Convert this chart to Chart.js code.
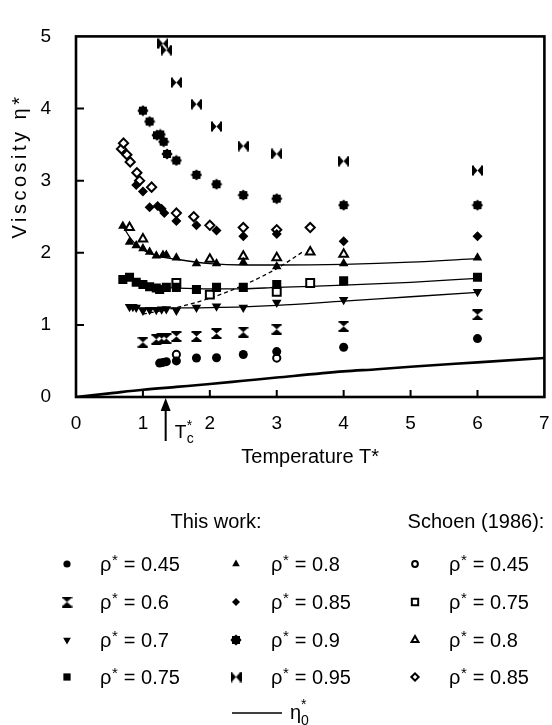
<!DOCTYPE html>
<html lang="en">
<head>
<meta charset="UTF-8">
<title>Viscosity vs Temperature</title>
<script src="https://cdnjs.cloudflare.com/ajax/libs/Chart.js/4.4.1/chart.umd.min.js"></script>
<style>
    html, body { margin: 0; padding: 0; background: #fff; }
    #wrap { width: 552px; height: 725px; }
</style>
</head>
<body>
<div id="wrap"><canvas id="viscChart" width="552" height="725"></canvas></div>
<script>
    // critical temperature marker
    const TC = 1.34;

    // This work: reduced temperature T* and viscosity eta*
    const t45 = [1.25, 1.3, 1.35, 1.5, 1.8, 2.1, 2.5, 3.0, 4.0, 6.0];
    const v45 = [0.47, 0.48, 0.49, 0.50, 0.54, 0.545, 0.59, 0.63, 0.69, 0.81];
    const t60 = [1.0, 1.2, 1.28, 1.35, 1.5, 1.8, 2.1, 2.5, 3.0, 4.0, 6.0];
    const v60 = [0.76, 0.80, 0.81, 0.81, 0.84, 0.84, 0.88, 0.90, 0.94, 0.98, 1.14];
    const t70 = [0.8, 0.85, 0.9, 1.0, 1.1, 1.2, 1.28, 1.35, 1.5, 1.8, 2.1, 2.5, 3.0, 4.0, 6.0];
    const v70 = [1.25, 1.25, 1.24, 1.20, 1.21, 1.21, 1.215, 1.22, 1.20, 1.24, 1.26, 1.24, 1.31, 1.35, 1.46];
    const t75 = [0.7, 0.8, 0.9, 1.0, 1.1, 1.2, 1.25, 1.35, 1.5, 1.8, 2.1, 2.5, 3.0, 4.0, 6.0];
    const v75 = [1.63, 1.66, 1.59, 1.56, 1.53, 1.51, 1.49, 1.52, 1.52, 1.49, 1.52, 1.52, 1.56, 1.61, 1.66];
    const t80 = [0.7, 0.8, 0.9, 1.0, 1.1, 1.2, 1.3, 1.35, 1.5, 1.8, 2.1, 2.5, 3.0, 4.0, 6.0];
    const v80 = [2.37, 2.15, 2.10, 2.06, 2.01, 1.96, 1.97, 1.97, 1.93, 1.85, 1.85, 1.87, 1.81, 1.85, 1.93];
    const t85 = [0.9, 1.0, 1.1, 1.22, 1.28, 1.32, 1.5, 1.8, 2.1, 2.5, 3.0, 4.0, 6.0];
    const v85 = [2.94, 2.85, 2.63, 2.65, 2.61, 2.55, 2.44, 2.38, 2.31, 2.23, 2.26, 2.16, 2.23];
    const t90 = [1.0, 1.1, 1.21, 1.26, 1.31, 1.36, 1.5, 1.8, 2.1, 2.5, 3.0, 4.0, 6.0];
    const v90 = [3.97, 3.82, 3.63, 3.64, 3.54, 3.37, 3.28, 3.08, 2.95, 2.80, 2.75, 2.66, 2.66];
    const t95 = [1.3, 1.35, 1.5, 1.8, 2.1, 2.5, 3.0, 4.0, 6.0];
    const v95 = [4.90, 4.81, 4.36, 4.06, 3.75, 3.48, 3.37, 3.27, 3.14];

    // Schoen (1986)
    const s45t = [1.5, 3.0];
    const s45v = [0.59, 0.54];
    const s75t = [1.5, 2.0, 3.0, 3.5];
    const s75v = [1.58, 1.42, 1.46, 1.58];
    const s80t = [0.8, 1.0, 2.0, 2.5, 3.0, 3.5, 4.0];
    const s80v = [2.35, 2.19, 1.91, 1.95, 1.93, 2.01, 1.98];
    const s85t = [0.68, 0.71, 0.76, 0.81, 0.91, 0.95, 1.13, 1.5, 1.76, 2.0, 2.5, 3.0, 3.5];
    const s85v = [3.44, 3.52, 3.36, 3.26, 3.11, 3.00, 2.91, 2.55, 2.50, 2.38, 2.35, 2.32, 2.35];

    // fitted curves
    const f80t = [0.7, 0.8, 0.9, 1.0, 1.2, 1.5, 2.0, 2.5, 3.0, 4.0, 5.0, 6.0];
    const f80v = [2.37, 2.22, 2.11, 2.04, 1.96, 1.91, 1.85, 1.83, 1.83, 1.84, 1.87, 1.92];
    const f75t = [1.0, 1.5, 2.0, 2.5, 3.0, 4.0, 5.0, 6.0];
    const f75v = [1.53, 1.51, 1.50, 1.50, 1.52, 1.55, 1.59, 1.645];
    const f70t = [0.8, 1.0, 1.5, 2.0, 2.5, 3.0, 4.0, 5.0, 6.0];
    const f70v = [1.24, 1.235, 1.235, 1.24, 1.25, 1.27, 1.33, 1.39, 1.45];
    const dashT = [1.0, 1.5, 2.0, 2.5, 3.0, 3.4];
    const dashV = [1.15, 1.24, 1.37, 1.55, 1.78, 2.02];
    // dilute gas viscosity eta0*
    const e0t = [0, 0.5, 1, 1.5, 2, 2.5, 3, 4, 4.5, 5, 6, 7];
    const e0v = [0, 0.05, 0.10, 0.14, 0.18, 0.225, 0.27, 0.355, 0.385, 0.42, 0.48, 0.54];

    const FONT = 'Liberation Sans, Arial, Helvetica, sans-serif';
    const F = (s) => s + 'px ' + FONT;

    function pts(xs, ys) {
        return xs.map((x, i) => ({ x: x, y: ys[i] }));
    }

    // custom marker images
    function hourglass() {
        const c = document.createElement('canvas');
        c.width = 11; c.height = 11;
        const g = c.getContext('2d');
        g.fillStyle = '#000';
        g.beginPath(); g.moveTo(1, 1.5); g.lineTo(10, 1.5); g.lineTo(5.5, 5.5); g.closePath(); g.fill();
        g.beginPath(); g.moveTo(1, 9.5); g.lineTo(10, 9.5); g.lineTo(5.5, 5.5); g.closePath(); g.fill();
        g.fillRect(0.5, 0, 10, 2);
        g.fillRect(0.5, 9, 10, 2);
        return c;
    }

    function blob() {
        const c = document.createElement('canvas');
        c.width = 12; c.height = 12;
        const g = c.getContext('2d');
        g.fillStyle = '#000';
        g.beginPath();
        for (let i = 0; i < 16; i++) {
            const r = i % 2 === 0 ? 5.6 : 4.4;
            const a = i * Math.PI / 8;
            const px = 6 + r * Math.cos(a), py = 6 + r * Math.sin(a);
            if (i === 0) g.moveTo(px, py); else g.lineTo(px, py);
        }
        g.closePath();
        g.fill();
        return c;
    }

    const HG = hourglass();
    const BLOB = blob();

    function marker(label, xs, ys, style, opts) {
        return Object.assign({
            label: label,
            data: pts(xs, ys),
            pointStyle: style,
            pointRadius: 4.5,
            pointBackgroundColor: '#000',
            pointBorderColor: '#000',
            pointBorderWidth: 0,
            pointRotation: 0,
            showLine: false
        }, opts || {});
    }

    function curve(xs, ys, width, dash) {
        return {
            label: '',
            data: pts(xs, ys),
            showLine: true,
            borderColor: '#000',
            borderWidth: width,
            borderDash: dash || [],
            pointRadius: 0,
            cubicInterpolationMode: 'monotone',
            fill: false
        };
    }

    const openOpts = { pointBackgroundColor: '#fff', pointBorderWidth: 2 };

    const datasets = [
        marker('0.45', t45, v45, 'circle', { pointRadius: 4.5 }),
        marker('0.6', t60, v60, HG),
        marker('0.7', t70, v70, 'triangle', { pointRadius: 5.5, pointRotation: 180 }),
        marker('0.75', t75, v75, 'rect', { pointRadius: 6.4 }),
        marker('0.8', t80, v80, 'triangle', { pointRadius: 5.5 }),
        marker('0.85', t85, v85, 'rectRot', { pointRadius: 5 }),
        marker('0.9', t90, v90, BLOB),
        marker('0.95', t95, v95, HG, { pointRotation: 90 }),
        marker('0.45', s45t, s45v, 'circle', Object.assign({ pointRadius: 3.6 }, openOpts)),
        marker('0.75', s75t, s75v, 'rect', Object.assign({ pointRadius: 5.6 }, openOpts)),
        marker('0.8', s80t, s80v, 'triangle', Object.assign({ pointRadius: 5 }, openOpts)),
        marker('0.85', s85t, s85v, 'rectRot', Object.assign({ pointRadius: 4.6 }, openOpts)),
        curve(f80t, f80v, 1.3),
        curve(f75t, f75v, 1.3),
        curve(f70t, f70v, 1.3),
        curve(dashT, dashV, 1.3, [4, 3]),
        curve(e0t, e0v, 2.6)
    ];

    // legend columns: dataset indexes
    const legendCols = [[0, 1, 2, 3], [4, 5, 6, 7], [8, 9, 10, 11]];

    function drawRho(ctx, x, y, val) {
        ctx.font = F(20);
        ctx.textAlign = 'left';
        ctx.fillText('ρ', x, y);
        const w = ctx.measureText('ρ').width;
        ctx.font = F(15);
        ctx.fillText('*', x + w + 0.5, y - 6);
        const w2 = ctx.measureText('*').width;
        ctx.font = F(20);
        ctx.fillText(' = ' + val, x + w + w2 + 1, y);
    }

    const decor = {
        id: 'decor',
        afterDraw(chart) {
            const ctx = chart.ctx;
            const a = chart.chartArea;
            const xs = chart.scales.x, ys = chart.scales.y;
            ctx.save();
            ctx.strokeStyle = '#000';
            ctx.fillStyle = '#000';

            // frame
            ctx.lineWidth = 2.6;
            ctx.strokeRect(a.left, a.top, a.right - a.left, a.bottom - a.top);

            // inward ticks
            ctx.lineWidth = 2;
            ctx.beginPath();
            xs.ticks.forEach(t => {
                if (t.value <= 0 || t.value >= 7) return;
                const px = xs.getPixelForValue(t.value);
                ctx.moveTo(px, a.bottom);
                ctx.lineTo(px, a.bottom - 7);
            });
            ys.ticks.forEach(t => {
                if (t.value <= 0 || t.value >= 5) return;
                const py = ys.getPixelForValue(t.value);
                ctx.moveTo(a.left, py);
                ctx.lineTo(a.left + 8, py);
            });
            ctx.stroke();

            // Tc arrow
            const tx = xs.getPixelForValue(TC);
            ctx.lineWidth = 2;
            ctx.beginPath();
            ctx.moveTo(tx, a.bottom + 10);
            ctx.lineTo(tx, a.bottom + 44);
            ctx.stroke();
            ctx.beginPath();
            ctx.moveTo(tx, a.bottom + 1);
            ctx.lineTo(tx - 5, a.bottom + 14);
            ctx.lineTo(tx + 5, a.bottom + 14);
            ctx.closePath();
            ctx.fill();
            ctx.textAlign = 'left';
            ctx.textBaseline = 'alphabetic';
            ctx.font = F(19);
            ctx.fillText('T', tx + 9, a.bottom + 41);
            ctx.font = F(14);
            ctx.fillText('*', tx + 21, a.bottom + 33);
            ctx.fillText('c', tx + 21, a.bottom + 46);

            // axis titles
            ctx.font = F(20);
            ctx.textAlign = 'center';
            ctx.fillText('Temperature T*', (a.left + a.right) / 2, 463);
            ctx.save();
            ctx.translate(26, 166);
            ctx.rotate(-Math.PI / 2);
            ctx.letterSpacing = '3.5px';
            ctx.fillText('Viscosity η*', 0, 0);
            ctx.restore();

            // legend
            ctx.font = F(20);
            ctx.textAlign = 'center';
            ctx.fillText('This work:', 216, 528);
            ctx.fillText('Schoen (1986):', 476, 528);
            const rowsY = [564, 602, 640, 677];
            const markX = [67, 236, 415];
            const textX = [100, 271, 449];
            legendCols.forEach((col, ci) => {
                col.forEach((di, ri) => {
                    const ds = datasets[di];
                    const y = rowsY[ri];
                    ctx.fillStyle = ds.pointBackgroundColor;
                    ctx.strokeStyle = '#000';
                    ctx.lineWidth = ds.pointBorderWidth;
                    Chart.helpers.drawPoint(ctx, {
                        pointStyle: ds.pointStyle,
                        radius: ds.pointRadius * 0.8,
                        rotation: ds.pointRotation,
                        borderWidth: ds.pointBorderWidth
                    }, markX[ci], y);
                    ctx.fillStyle = '#000';
                    drawRho(ctx, textX[ci], y + 7, ds.label);
                });
            });

            // eta0 entry
            ctx.strokeStyle = '#000';
            ctx.lineWidth = 1.6;
            ctx.beginPath();
            ctx.moveTo(232, 713);
            ctx.lineTo(282, 713);
            ctx.stroke();
            ctx.textAlign = 'left';
            ctx.font = F(20);
            ctx.fillText('η', 290, 719);
            ctx.font = F(14);
            ctx.fillText('*', 301, 709);
            ctx.fillText('0', 301, 725);
            ctx.restore();
        }
    };

    new Chart(document.getElementById('viscChart'), {
        type: 'scatter',
        data: { datasets: datasets },
        options: {
            responsive: false,
            animation: false,
            events: [],
            layout: { padding: { top: 19, right: 6, left: 0, bottom: 0 } },
            plugins: { legend: { display: false }, tooltip: { enabled: false } },
            scales: {
                x: {
                    type: 'linear', min: 0, max: 7,
                    afterFit: (s) => { s.height = 328; s.paddingRight = 0; s.paddingLeft = 0; },
                    grid: { display: false, drawTicks: false },
                    border: { display: false },
                    ticks: { stepSize: 1, color: '#000', font: { family: FONT, size: 19 }, padding: 15 }
                },
                y: {
                    type: 'linear', min: 0, max: 5,
                    afterFit: (s) => { s.width = 76; },
                    grid: { display: false, drawTicks: false },
                    border: { display: false },
                    ticks: { stepSize: 1, color: '#000', font: { family: FONT, size: 19 }, padding: 25 }
                }
            }
        },
        plugins: [decor]
    });
</script>
</body>
</html>
